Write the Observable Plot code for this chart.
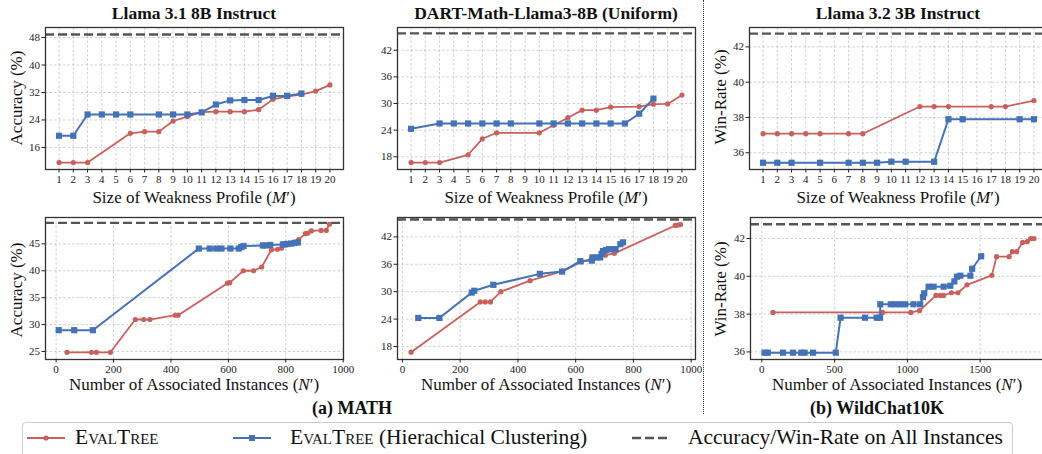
<!DOCTYPE html>
<html>
<head>
<meta charset="utf-8">
<script src="https://cdn.jsdelivr.net/npm/d3@7"></script>
<script src="https://cdn.jsdelivr.net/npm/@observablehq/plot@0.6"></script>
<style>
  html, body { margin: 0; padding: 0; background: #fff; overflow: hidden; }
  #chart { position: relative; width: 1042px; height: 454px; overflow: hidden; background: #fff;
           font-family: "Liberation Serif", "DejaVu Serif", serif; color: #111; }
  .lbl { position: absolute; white-space: nowrap; transform: translate(-50%, -50%); line-height: 1; }
  .ylbl { position: absolute; white-space: nowrap; transform: translate(-50%, -50%) rotate(-90deg); line-height: 1; }
  .title { font-weight: bold; font-size: 17.5px; }
  .axl { font-size: 17px; }
  .sub { font-weight: bold; font-size: 18px; }
  .sc { font-variant: small-caps; }
  .leg { position: absolute; font-size: 21.5px; white-space: nowrap; transform: translateY(-50%); line-height: 1; }
</style>
</head>
<body>
<div id="chart"></div>
<script>
// ---------------- DATA ----------------
const RED = "#c9605b";
const BLUE = "#4472b8";

// Tick values
const ticksM = [1,2,3,4,5,6,7,8,9,10,11,12,13,14,15,16,17,18,19,20];
const ticksN1000 = [0,200,400,600,800,1000];
const ticksN2000 = [0,500,1000,1500];
const yTicksLlama31 = [16,24,32,40,48];
const yTicksDart = [18,24,30,36,42];
const yTicksLlama31N = [25,30,35,40,45];
const yTicksWild = [36,38,40,42];

// Reference (all instances)
const refMathLlama31 = 48.9;
const refMathDart = 45.8;
const refWild = 42.75;

// (a) MATH, Llama 3.1 8B Instruct, vs size of weakness profile
const l31M_evalX = [1,2,3,6,7,8,9,10,11,12,13,14,15,16,17,18,19,20];
const l31M_evalY = [11.6,11.6,11.6,20.1,20.6,20.6,23.7,25.0,26.3,26.4,26.4,26.4,27.0,30.0,30.9,31.4,32.4,34.2];
const l31M_hcX = [1,2,3,4,5,6,8,9,10,11,12,13,14,15,16,17,18];
const l31M_hcY = [19.4,19.4,25.6,25.6,25.6,25.6,25.6,25.6,25.6,26.2,28.5,29.7,29.8,29.8,31.0,31.0,31.7];

// (a) MATH, DART-Math-Llama3-8B (Uniform), vs size
const dartM_evalX = [1,2,3,5,6,7,10,11,12,13,14,15,17,18,19,20];
const dartM_evalY = [16.7,16.7,16.7,18.45,22.05,23.4,23.4,25.1,26.8,28.5,28.5,29.2,29.3,29.85,29.9,31.9];
const dartM_hcX = [1,3,4,5,6,7,8,10,11,12,13,14,15,16,17,18];
const dartM_hcY = [24.3,25.5,25.5,25.5,25.5,25.5,25.5,25.5,25.5,25.5,25.5,25.5,25.5,25.5,27.7,31.1];

// (b) WildChat10K, Llama 3.2 3B Instruct, vs size
const wildM_evalX = [1,2,3,4,5,7,8,12,13,14,17,18,20];
const wildM_evalY = [37.08,37.08,37.08,37.08,37.08,37.08,37.08,38.62,38.62,38.62,38.62,38.62,38.96];
const wildM_hcX = [1,2,3,5,7,8,9,10,11,13,14,15,19,20];
const wildM_hcY = [35.43,35.43,35.43,35.43,35.43,35.43,35.43,35.49,35.49,35.49,37.9,37.9,37.9,37.9];

// (a) MATH, Llama 3.1 8B, vs number of associated instances
const l31N_evalX = [38,123,140,189,276,305,327,415,425,597,605,652,688,716,750,771,785,800,845,868,877,889,923,941,952];
const l31N_evalY = [24.85,24.85,24.85,24.85,30.94,30.94,30.94,31.75,31.75,37.7,37.8,40.0,40.0,40.7,43.9,44.0,44.2,45.0,45.8,46.9,47.0,47.4,47.5,47.5,48.65];
const l31N_hcX = [9,63,128,497,535,558,576,607,636,645,653,720,730,746,790,798,807,819,831,842];
const l31N_hcY = [28.96,28.96,28.96,44.13,44.13,44.13,44.13,44.13,44.13,44.4,44.6,44.7,44.7,44.8,44.9,44.9,45.0,45.05,45.2,45.25];

// (a) MATH, DART-Math, vs number of associated instances
const dartN_evalX = [30,270,287,305,341,442,555,620,665,703,734,945,955,963];
const dartN_evalY = [16.76,27.75,27.75,27.75,30.0,32.4,34.5,36.5,37.4,38.0,38.4,44.5,44.6,44.7];
const dartN_hcX = [55,128,240,249,315,476,553,616,656,658,672,685,690,695,705,715,728,738,755,764];
const dartN_hcY = [24.25,24.25,29.8,30.2,31.5,33.9,34.4,36.7,36.8,37.5,37.5,37.5,38.3,38.9,39.1,39.3,39.3,39.3,40.4,40.8];

// (b) WildChat10K, vs number of associated instances
const wildN_evalX = [76,830,1024,1083,1196,1225,1249,1302,1348,1410,1580,1613,1699,1721,1751,1792,1824,1847,1870];
const wildN_evalY = [38.09,38.09,38.09,38.18,38.99,38.99,38.99,39.13,39.13,39.55,40.05,41.04,41.04,41.3,41.3,41.79,41.83,42.0,42.0];
const wildN_hcX = [18,41,145,214,271,294,352,508,541,709,789,812,814,886,916,950,985,1042,1088,1107,1116,1146,1180,1249,1295,1323,1341,1364,1433,1445,1507];
const wildN_hcY = [35.96,35.96,35.96,35.96,35.96,35.96,35.96,35.96,37.81,37.81,37.81,37.81,38.52,38.52,38.52,38.52,38.52,38.52,38.52,38.9,39.1,39.45,39.45,39.45,39.5,39.73,39.98,40.03,40.03,40.4,41.06];

// ---------------- DRAW ----------------
const chart = document.getElementById("chart");
const FONT = "Liberation Serif, DejaVu Serif, serif";
const zip = (xs, ys) => xs.map((x, i) => ({x, y: ys[i]}));

function panel(o) {
  const ml = 40, mr = 8, mt = 6, mb = 26;
  const ev = zip(o.ex, o.ey), hc = zip(o.hx, o.hy);
  const p = Plot.plot({
    width: o.w + ml + mr, height: o.h + mt + mb,
    marginLeft: ml, marginRight: mr, marginTop: mt, marginBottom: mb,
    x: {domain: o.xd}, y: {domain: o.yd},
    style: {fontFamily: FONT, fontSize: "11px", color: "#222", background: "transparent", overflow: "visible"},
    marks: [
      Plot.gridX(o.xt, {stroke: "#aaa", strokeOpacity: 0.7, strokeDasharray: "2.5,2", strokeWidth: 0.8}),
      Plot.gridY(o.yt, {stroke: "#aaa", strokeOpacity: 0.7, strokeDasharray: "2.5,2", strokeWidth: 0.8}),
      Plot.ruleY([o.ref], {stroke: "#555", strokeWidth: 2.4, strokeDasharray: "9,4"}),
      Plot.line(ev, {x: "x", y: "y", stroke: RED, strokeWidth: 1.8}),
      Plot.dot(ev, {x: "x", y: "y", r: 2.6, fill: RED}),
      Plot.line(hc, {x: "x", y: "y", stroke: BLUE, strokeWidth: 2}),
      Plot.dot(hc, {x: "x", y: "y", r: 3.5, symbol: "square", fill: BLUE}),
      Plot.frame({stroke: "#333", strokeWidth: 1.3}),
      Plot.axisX(o.xt, {tickSize: 3.5, tickPadding: 2, label: null, tickFormat: d => String(d)}),
      Plot.axisY(o.yt, {tickSize: 3.5, tickPadding: 2, label: null, tickFormat: d => String(d)})
    ]
  });
  p.style.position = "absolute";
  p.style.left = (o.left - ml) + "px";
  p.style.top = (o.top - mt) + "px";
  chart.appendChild(p);
}

const TOP = 27, BOT = 217, H = 142, W = 298;
const LA = 45, LB = 397, LC = 748.5;

panel({left: LA, top: TOP, w: W, h: H, xd: [0.05, 20.95], yd: [9.58, 50.92], xt: ticksM, yt: yTicksLlama31,
       ref: refMathLlama31, ex: l31M_evalX, ey: l31M_evalY, hx: l31M_hcX, hy: l31M_hcY});
panel({left: LB, top: TOP, w: W, h: H, xd: [0.05, 20.95], yd: [15.13, 47.12], xt: ticksM, yt: yTicksDart,
       ref: refMathDart, ex: dartM_evalX, ey: dartM_evalY, hx: dartM_hcX, hy: dartM_hcY});
panel({left: LC, top: TOP, w: W, h: H, xd: [0.05, 20.95], yd: [35.05, 43.1], xt: ticksM, yt: yTicksWild,
       ref: refWild, ex: wildM_evalX, ey: wildM_evalY, hx: wildM_hcX, hy: wildM_hcY});
panel({left: LA, top: BOT, w: W, h: H, xd: [-37, 1001], yd: [23.51, 49.9], xt: ticksN1000, yt: yTicksLlama31N,
       ref: refMathLlama31, ex: l31N_evalX, ey: l31N_evalY, hx: l31N_hcX, hy: l31N_hcY});
panel({left: LB, top: BOT, w: W, h: H, xd: [-17, 1015], yd: [15.15, 46.24], xt: ticksN1000, yt: yTicksDart,
       ref: refMathDart, ex: dartN_evalX, ey: dartN_evalY, hx: dartN_hcX, hy: dartN_hcY});
panel({left: LC + 1, top: BOT, w: W - 2, h: H, xd: [-78, 1956], yd: [35.6, 43.11], xt: ticksN2000, yt: yTicksWild,
       ref: refWild, ex: wildN_evalX, ey: wildN_evalY, hx: wildN_hcX, hy: wildN_hcY});

// ---------------- TEXT ----------------
function addText(html, cls, x, y, rot) {
  const d = document.createElement("div");
  d.className = (rot ? "ylbl " : "lbl ") + cls;
  d.style.left = x + "px"; d.style.top = y + "px";
  d.innerHTML = html;
  chart.appendChild(d);
}
addText("Llama 3.1 8B Instruct", "title", 194, 14);
addText("DART-Math-Llama3-8B (Uniform)", "title", 546, 14);
addText("Llama 3.2 3B Instruct", "title", 898, 14);

const sizeLbl = "Size of Weakness Profile (<i>M</i>′)";
const numLbl = "Number of Associated Instances (<i>N</i>′)";
addText(sizeLbl, "axl", 194, 197);
addText(sizeLbl, "axl", 546, 197);
addText(sizeLbl, "axl", 898, 197);
addText(numLbl, "axl", 194, 384);
addText(numLbl, "axl", 546, 384);
addText(numLbl, "axl", 897, 384);

addText("Accuracy (%)", "axl", 16, 98, true);
addText("Accuracy (%)", "axl", 16, 290, true);
addText("Win-Rate (%)", "axl", 720, 97, true);
addText("Win-Rate (%)", "axl", 720, 289, true);

addText("(a) MATH", "sub", 352, 408);
addText("(b) WildChat10K", "sub", 877, 408);

// dotted separator
const sep = document.createElement("div");
sep.style.cssText = "position:absolute;left:703px;top:0;height:414px;width:0;border-left:1.3px dotted #333;";
chart.appendChild(sep);

// legend
const box = document.createElement("div");
box.style.cssText = "position:absolute;left:22px;top:422px;width:991px;height:40px;border:1px solid #ccc;border-radius:4px;box-sizing:border-box;";
chart.appendChild(box);
const LY = 438;
function sample(x, kind) {
  const ns = "http://www.w3.org/2000/svg";
  const s = document.createElementNS(ns, "svg");
  s.setAttribute("width", 38); s.setAttribute("height", 14);
  s.style.cssText = `position:absolute;left:${x}px;top:${LY - 7}px;`;
  let inner = "";
  if (kind === "red") inner = `<line x1="0" y1="7" x2="38" y2="7" stroke="${RED}" stroke-width="1.8"/><circle cx="19" cy="7" r="2.6" fill="${RED}"/>`;
  if (kind === "blue") inner = `<line x1="0" y1="7" x2="38" y2="7" stroke="${BLUE}" stroke-width="2"/><rect x="16" y="4" width="6" height="6" fill="${BLUE}"/>`;
  if (kind === "ref") inner = `<line x1="0" y1="7" x2="38" y2="7" stroke="#555" stroke-width="2.4" stroke-dasharray="9,4"/>`;
  s.innerHTML = inner;
  chart.appendChild(s);
}
function legText(html, x) {
  const d = document.createElement("div");
  d.className = "leg"; d.style.left = x + "px"; d.style.top = LY + "px";
  d.innerHTML = html; chart.appendChild(d);
}
sample(27, "red"); legText('<span class="sc">EvalTree</span>', 75);
sample(233, "blue"); legText('<span class="sc">EvalTree</span> (Hierachical Clustering)', 290);
sample(632, "ref"); legText("Accuracy/Win-Rate on All Instances", 688);
</script>
</body>
</html>
